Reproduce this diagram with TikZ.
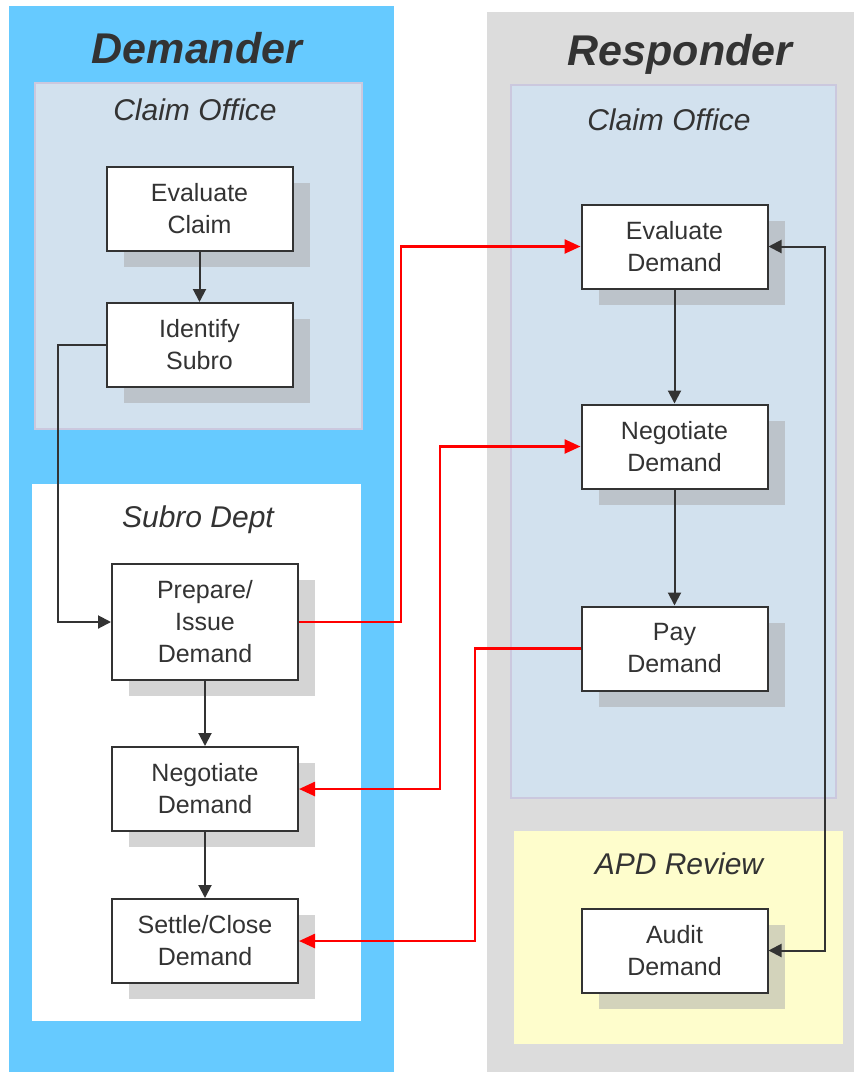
\documentclass[tikz,border=0pt]{standalone}
\usepackage{fontspec}
\setmainfont{Liberation Sans}
\usetikzlibrary{arrows.meta,shadows}
\definecolor{dblue}{HTML}{66CAFF}
\definecolor{lblue}{HTML}{D2E1EE}
\definecolor{lav}{HTML}{CBC8DE}
\definecolor{gpanel}{HTML}{DCDCDC}
\definecolor{ylw}{HTML}{FEFDCC}
\definecolor{ink}{HTML}{333333}
\definecolor{shb}{HTML}{BCC3CA}
\definecolor{shw}{HTML}{D4D4D4}
\definecolor{shy}{HTML}{D3D3BB}
\definecolor{rd}{HTML}{FF0000}
\tikzset{
  box/.style={draw=ink, line width=2pt, fill=white, text=ink,
    minimum width=186pt, minimum height=84pt, align=center, inner sep=0pt,
    font=\fontsize{25}{32}\selectfont,
    drop shadow={shadow xshift=17pt, shadow yshift=-16pt, fill=#1, opacity=1}},
  box/.default=shb,
  title/.style={text=ink, anchor=base, font=\fontsize{43}{50}\selectfont\bfseries\itshape},
  sub/.style={text=ink, anchor=base, font=\fontsize{30}{36}\selectfont\itshape},
  arr/.style={draw=ink, line width=2pt, -{Triangle[length=13pt,width=13pt]}},
  darr/.style={draw=ink, line width=2pt, {Triangle[length=13pt,width=13pt]}-{Triangle[length=13pt,width=13pt]}},
  rarr/.style={draw=rd, line width=2.5pt, -{Triangle[length=16pt,width=14pt]}},
  rdarr/.style={draw=rd, line width=2.5pt, {Triangle[length=16pt,width=14pt]}-{Triangle[length=16pt,width=14pt]}},
}
\begin{document}
\begin{tikzpicture}[x=1pt,y=-1pt]
\useasboundingbox (0,0) rectangle (854,1072);
\fill[white] (0,0) rectangle (854,1072);
% panels
\fill[dblue] (9,6) rectangle (394,1072);
\fill[gpanel] (487,12) rectangle (854,1072);
\filldraw[fill=lblue, draw=lav, line width=1.5pt] (35,83) rectangle (362,429);
\fill[white] (32,484) rectangle (361,1021);
\filldraw[fill=lblue, draw=lav, line width=1.5pt] (511,85) rectangle (836,798);
\fill[ylw] (514,831) rectangle (843,1044);
% titles
\node[title] (tdem) at (197,63) {Demander};
\node[title] (tres) at (680,65) {Responder};
\node[sub] (tco1) at (195,120) {Claim Office};
\node[sub] (tco2) at (669,130) {Claim Office};
\node[sub] (tsub) at (198,527) {Subro Dept};
\node[sub] (tapd) at (679,874) {APD Review};
% boxes
\node[box] (evc) at (199.5,209) {Evaluate\\Claim};
\node[box] (ids) at (199.5,345) {Identify\\Subro};
\node[box=shw, minimum height=116pt] (prep) at (205,622) {Prepare/\\Issue\\Demand};
\node[box=shw] (negl) at (205,789) {Negotiate\\Demand};
\node[box=shw] (sett) at (205,941) {Settle/Close\\Demand};
\node[box] (evd) at (674.5,246.5) {Evaluate\\Demand};
\node[box] (negr) at (674.5,446.5) {Negotiate\\Demand};
\node[box] (pay) at (674.5,648.5) {Pay\\Demand};
\node[box=shy] (aud) at (674.5,950.5) {Audit\\Demand};
% coordinates
\coordinate (k1) at (58,622);
\coordinate (k2) at (825,950.5);
\coordinate (r1) at (401,246.5);
\coordinate (r2) at (440,446.5);
\coordinate (r3) at (475,941);
% black connectors
\draw[arr] (evc) -- (ids);
\draw[arr] (ids.west) -| (k1) -- (prep.west);
\draw[arr] (prep) -- (negl);
\draw[arr] (negl) -- (sett);
\draw[arr] (evd) -- (negr);
\draw[arr] (negr) -- (pay);
\draw[darr] (evd.east) -| (k2) -- (aud.east);
% red connectors
\draw[rarr] (prep.east) -| (r1) -- (evd.west);
\draw[rdarr] (negl.east) -| (r2) -- (negr.west);
\draw[rarr] (pay.west) -| (r3) -- (sett.east);
\end{tikzpicture}
\end{document}
